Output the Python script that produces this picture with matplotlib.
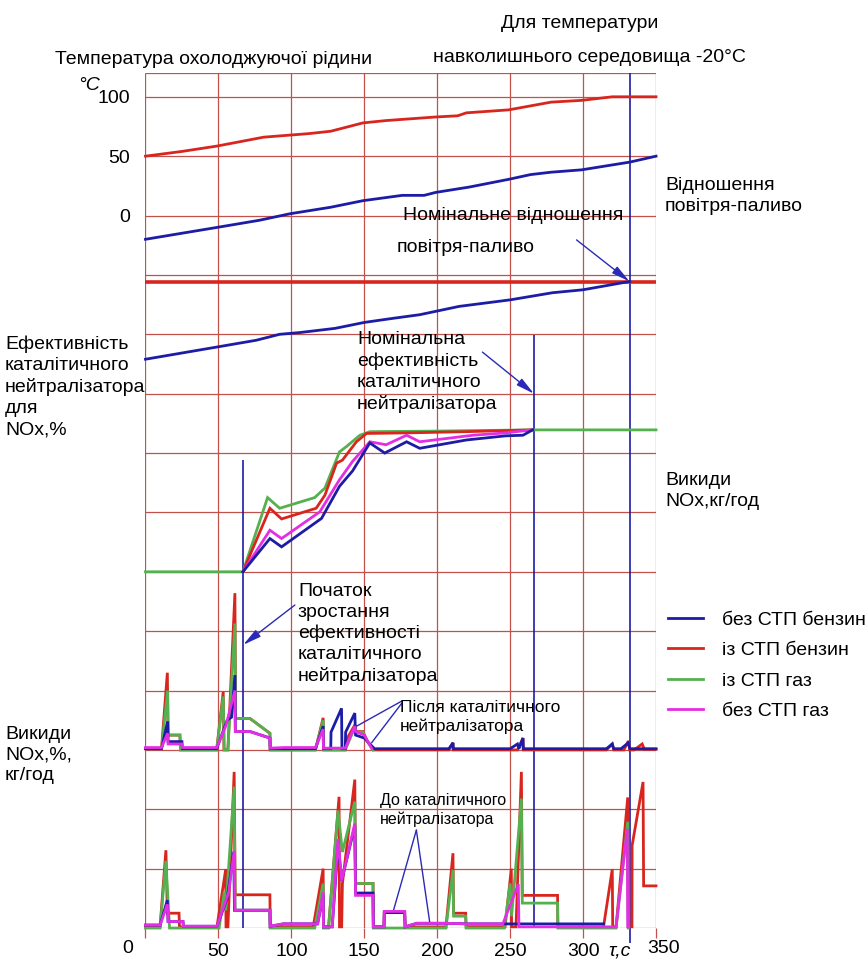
import matplotlib
matplotlib.use('Agg')
import matplotlib.pyplot as plt
from matplotlib.lines import Line2D

plt.rcParams['font.family'] = ['Liberation Sans', 'DejaVu Sans']

C_GRID = '#c4504c'
C_RED = '#d8261e'
C_BLUE = '#1c1ca6'
C_GREEN = '#55b04f'
C_MAG = '#e42ee4'
C_ARW = '#2a2ab8'

# ---- coolant temperature, deg C ----
T_RED_T = [0, 25, 49, 81, 112, 127, 149, 165, 199, 214, 220, 249, 278, 299, 320, 350]
T_RED = [50, 54, 58.5, 66, 69, 71, 78, 80, 83, 84, 86.5, 89, 95.5, 97, 100, 100]
T_BLUE_T = [0, 49, 78, 99, 127, 149, 176, 191, 199, 222, 249, 264, 278, 299, 332, 350]
T_BLUE = [-20, -10, -4, 1.5, 7, 12.5, 17, 17, 19.5, 24, 30.5, 34.5, 36.5, 38.5, 45, 50]

# ---- air-fuel ratio (grid units above panel base) ----
AFR_T = [0, 50, 76, 92, 106, 130, 150, 170, 188, 215, 250, 279, 300, 332]
AFR = [0.58, 0.79, 0.9, 1.0, 1.03, 1.1, 1.2, 1.27, 1.33, 1.47, 1.58, 1.70, 1.75, 1.89]
AFR_NOM = 1.88

# ---- catalyst efficiency (grid units above panel base) ----
EFF_G_T = [0, 66.8, 83.7, 92, 116, 123, 133, 137.8, 147, 153.8, 200, 265, 350]
EFF_G = [0, 0, 1.25, 1.07, 1.25, 1.41, 2.02, 2.11, 2.3, 2.36, 2.37, 2.39, 2.39]
EFF_R_T = [66.8, 85.3, 93.3, 117, 123, 131, 135, 144.6, 151.5, 180, 220, 265]
EFF_R = [0, 1.07, 0.89, 1.07, 1.29, 1.83, 1.88, 2.19, 2.33, 2.34, 2.36, 2.39]
EFF_M_T = [66.8, 85.3, 93.3, 119.5, 133, 142, 153.8, 165, 179, 188, 224.5, 247, 265]
EFF_M = [0, 0.7, 0.56, 1.01, 1.55, 1.86, 2.19, 2.14, 2.3, 2.19, 2.3, 2.34, 2.39]
EFF_B_T = [66.8, 85.3, 93.3, 120.7, 133, 142, 153.8, 164, 179, 188, 201.7, 220, 247, 258.8, 265.4]
EFF_B = [0, 0.56, 0.42, 0.9, 1.44, 1.7, 2.17, 2.0, 2.19, 2.08, 2.14, 2.22, 2.29, 2.3, 2.39]

# ---- NOx after catalyst (grid units above panel base) ----
AFT_R_T = [0, 11, 15, 15.5, 23.6, 24, 48.8, 53.3, 53.8, 56.5, 61.3, 61.8, 71.6, 85.3, 85.5,
           116.5, 121.8, 122.2, 137, 137.2, 143.5, 144, 149, 152, 156, 208, 210.8, 211,
           255, 258.8, 259, 316, 320, 321, 328, 331, 332, 335, 340.5, 342, 350]
AFT_R = [0.02, 0.02, 1.3, 0.25, 0.25, 0.0, 0.0, 0.98, 0.0, 0.0, 2.64, 0.53, 0.53, 0.28, 0.0,
         0.0, 0.54, 0.0, 0.0, 0.15, 0.42, 0.31, 0.31, 0.15, 0.0, 0.0, 0.12, 0.0,
         0.0, 0.2, 0.0, 0.0, 0.1, 0.0, 0.0, 0.15, 0.0, 0.0, 0.1, 0.01, 0.01]
AFT_G_T = [0, 11, 15.2, 15.5, 23.6, 24, 48.8, 53.3, 54, 56.5, 61.3, 61.8, 71.6, 85.3, 85.5,
           116.5, 121.8, 122.2, 137, 143.5, 144, 149, 152, 156]
AFT_G = [0.02, 0.02, 1.0, 0.25, 0.25, 0.0, 0.0, 0.9, 0.0, 0.0, 2.13, 0.53, 0.53, 0.28, 0.0,
         0.0, 0.5, 0.0, 0.0, 0.38, 0.3, 0.3, 0.15, 0.0]
AFT_B_T = [0, 11, 15.2, 15.5, 25, 25.3, 48.8, 56, 59, 61.3, 61.6, 71.6, 85.3, 85.5,
           116.5, 121.8, 122, 127, 127.2, 134.4, 134.7, 137, 137.2, 143.5, 144, 150, 153, 157,
           200, 208, 210.8, 211, 250, 255, 256, 258.8, 259, 316, 320, 321, 326, 331, 332, 350]
AFT_B = [0.02, 0.02, 0.48, 0.14, 0.14, 0.02, 0.02, 0.5, 0.55, 1.26, 0.31, 0.31, 0.2, 0.02,
         0.02, 0.4, 0.02, 0.02, 0.3, 0.7, 0.02, 0.02, 0.3, 0.62, 0.25, 0.2, 0.12, 0.02,
         0.02, 0.02, 0.12, 0.02, 0.02, 0.1, 0.02, 0.2, 0.02, 0.02, 0.1, 0.02, 0.02, 0.12, 0.02, 0.02]
AFT_M_T = [0, 11, 15.2, 15.5, 25, 25.3, 48.8, 55, 61.3, 61.6, 71.6, 85.3, 85.5,
           95, 116.5, 121.8, 122, 137, 143.5, 144, 150, 155]
AFT_M = [0.04, 0.04, 0.28, 0.1, 0.1, 0.04, 0.04, 0.4, 1.0, 0.31, 0.31, 0.2, 0.03,
         0.04, 0.04, 0.35, 0.03, 0.03, 0.4, 0.31, 0.25, 0.03]

# ---- NOx before catalyst (grid units above panel base) ----
BEF_R_T = [0, 10, 14, 15, 23, 23.3, 49, 55, 55.2, 56.5, 60.8, 61.5, 85.3, 85.5, 115, 121.8, 122,
           125.5, 132.7, 133, 134.5, 135, 143.5, 144, 156, 156.2, 163.5, 163.7, 177.7, 178,
           206, 210.8, 211.2, 219.5, 219.8, 246.5, 250.8, 251, 254, 257.7, 258.3, 282.5, 282.7,
           314, 320, 320.3, 322.6, 330.6, 331, 333.5, 333.6, 341.1, 341.5, 350]
BEF_R = [0.02, 0.02, 1.31, 0.25, 0.25, 0.02, 0.02, 0.99, 0.02, 0.02, 2.63, 0.56, 0.56, 0.02,
         0.02, 1.0, 0.02, 0.02, 2.21, 0.02, 0.02, 0.75, 2.5, 0.75, 0.75, 0.02, 0.02, 0.26, 0.26,
         0.02, 0.02, 1.26, 0.25, 0.25, 0.02, 0.02, 1.0, 0.02, 0.02, 2.63, 0.55, 0.55, 0.02,
         0.02, 0.99, 0.02, 0.02, 2.2, 0.02, 0.02, 1.39, 2.46, 0.71, 0.71]
BEF_G_T = [0, 10, 14, 16.5, 50.5, 54, 55, 60.8, 61.5, 85.3, 85.5, 116, 121.8, 122, 125.5, 132,
           135, 143.5, 144, 156, 156.2, 206, 210.8, 211.2, 219.5, 219.8, 246, 250, 251,
           257.7, 258.3, 282.5, 282.7, 322.6, 330.6, 331]
BEF_G = [0.0, 0.0, 1.13, 0.0, 0.0, 0.6, 0.3, 2.38, 0.3, 0.3, 0.0, 0.0, 0.75, 0.0, 0.0, 1.98,
         1.28, 2.13, 0.75, 0.75, 0.0, 0.0, 0.98, 0.2, 0.2, 0.0, 0.0, 0.75, 0.2,
         2.18, 0.42, 0.42, 0.0, 0.0, 1.79, 0.0]
BEF_B_T = [0, 10, 15, 15.5, 25.7, 26, 49, 56, 60.5, 61, 85.3, 85.5, 94.5, 118, 121.8, 122,
           128, 132, 134.5, 143.5, 144, 156, 156.2, 163.5, 163.7, 177.7, 178, 186, 206, 222,
           245, 282.5, 314]
BEF_B = [0.05, 0.05, 0.47, 0.11, 0.11, 0.03, 0.03, 0.5, 1.28, 0.3, 0.3, 0.03, 0.07, 0.07,
         0.55, 0.02, 0.02, 1.4, 0.8, 1.72, 0.59, 0.59, 0.02, 0.02, 0.26, 0.26, 0.02, 0.08,
         0.08, 0.07, 0.07, 0.07, 0.07]
BEF_M_T = [0, 10, 15, 15.5, 25.7, 26, 49, 57, 60.8, 61.3, 85.3, 85.5, 94.5, 118, 121.8, 122,
           128, 132, 134.5, 143.5, 144, 156, 156.2, 163.5, 163.7, 177.7, 178, 186, 206, 222,
           245, 255.6, 256, 322.6, 330.3, 330.6]
BEF_M = [0.05, 0.05, 0.4, 0.11, 0.11, 0.03, 0.03, 0.6, 1.3, 0.3, 0.3, 0.03, 0.07, 0.07,
         0.6, 0.02, 0.02, 1.5, 0.8, 1.76, 0.55, 0.55, 0.02, 0.02, 0.28, 0.28, 0.02, 0.08,
         0.08, 0.07, 0.07, 0.74, 0.02, 0.02, 1.67, 0.02]

# event markers: time, top (grid units), bottom
EVENT_T = [67, 266.5, 332]
EVENT_TOP = [7.88, 9.99, 14.4]
EVENT_BOT = [0, 0, -0.25]

XTICKS = [0, 50, 100, 150, 200, 250, 300, 350]
XLABELS = ['', '50', '100', '150', '200', '250', '300', '']
YTOP = 14.4
LABELS = ['без СТП бензин', 'із СТП бензин', 'із СТП газ', 'без СТП газ']

fig = plt.figure(figsize=(8.68, 9.65), dpi=100)
ax = fig.add_axes([0.1676, 0.0383, 0.5882, 0.886])
ax.set_xlim(0, 350)
ax.set_ylim(0, YTOP)
for s in ax.spines.values():
    s.set_visible(False)

# grid
ax.hlines(list(range(15)) + [YTOP], 0, 350, color=C_GRID, lw=0.9, zorder=1)
ax.vlines(range(0, 351, 50), 0, YTOP, color=C_GRID, lw=0.9, zorder=1)
ax.set_yticks([])
ax.set_xticks(XTICKS)
ax.set_xticklabels(XLABELS, fontsize=14)
ax.tick_params(axis='x', length=7, width=0.9, color=C_GRID, pad=4)
ax.text(-12, -0.2, '0', fontsize=14, ha='center', va='top')
ax.text(355, -0.2, '350', fontsize=14, ha='center', va='top')
ax.text(325, -0.25, 'τ,c', fontsize=14, ha='center', va='top', style='italic')


def panel(u0, u1, lim=None):
    p = ax.inset_axes([0, u0, 350, u1 - u0], transform=ax.transData)
    p.set_xlim(0, 350)
    p.set_ylim(*(lim if lim else (0, u1 - u0)))
    p.patch.set_alpha(0)
    p.set_frame_on(False)
    p.set_xticks([])
    p.set_yticks([])
    return p


kw = dict(lw=2.0, solid_joinstyle='miter', clip_on=False)

# temperature
tp = panel(11, YTOP, (-50, 120))
tp.plot(T_RED_T, T_RED, color=C_RED, **kw)
tp.plot(T_BLUE_T, T_BLUE, color=C_BLUE, **kw)
tp.set_yticks([0, 50, 100])
tp.set_yticklabels(['0', '50', '100'], fontsize=14)
tp.tick_params(axis='y', length=0, pad=11)

# air-fuel ratio
ap = panel(9, 11)
ap.axhline(AFR_NOM, color=C_RED, lw=2.6)
ap.plot(AFR_T, AFR, color=C_BLUE, **kw)

# efficiency
ep = panel(6, 9)
ep.plot(EFF_G_T, EFF_G, color=C_GREEN, **kw)
ep.plot(EFF_R_T, EFF_R, color=C_RED, **kw)
ep.plot(EFF_M_T, EFF_M, color=C_MAG, **kw)
ep.plot(EFF_B_T, EFF_B, color=C_BLUE, **kw)

# NOx after catalyst
np_ = panel(3, 6)
np_.plot(AFT_R_T, AFT_R, color=C_RED, **kw)
np_.plot(AFT_G_T, AFT_G, color=C_GREEN, **kw)
np_.plot(AFT_B_T, AFT_B, color=C_BLUE, **kw)
np_.plot(AFT_M_T, AFT_M, color=C_MAG, **kw)

# NOx before catalyst
bp = panel(0, 3)
bp.plot(BEF_R_T, BEF_R, color=C_RED, **kw)
bp.plot(BEF_G_T, BEF_G, color=C_GREEN, **kw)
bp.plot(BEF_B_T, BEF_B, color=C_BLUE, **kw)
bp.plot(BEF_M_T, BEF_M, color=C_MAG, **kw)

ax.vlines(EVENT_T, EVENT_BOT, EVENT_TOP, color=C_BLUE, lw=1.2, zorder=5, clip_on=False)

# arrows
arw = dict(arrowstyle='-|>,head_length=1.1,head_width=0.25', color=C_ARW, lw=1.0, shrinkA=0, shrinkB=0)
ax.annotate('', xy=(331.8, 10.89), xytext=(295.5, 11.59), arrowprops=arw)
ax.annotate('', xy=(266.3, 9.0), xytext=(231, 9.7), arrowprops=arw)
ax.annotate('', xy=(67, 4.77), xytext=(102.4, 5.44), arrowprops=arw)
ln = dict(arrowstyle='-', color=C_ARW, lw=1.0, shrinkA=0, shrinkB=0)
ax.annotate('', xy=(144, 3.39), xytext=(175.5, 3.82), arrowprops=ln)
ax.annotate('', xy=(155, 3.12), xytext=(175.5, 3.78), arrowprops=ln)
ax.annotate('', xy=(169.7, 0.27), xytext=(185.7, 1.65), arrowprops=ln)
ax.annotate('', xy=(194.9, 0.09), xytext=(185.7, 1.65), arrowprops=ln)

# texts
F = 14
def ftext(px, py, s, **k):
    k.setdefault('fontsize', F)
    k.setdefault('va', 'center')
    fig.text(px / 868, 1 - py / 965, s, **k)

ftext(580, 23, 'Для температури', ha='center')
ftext(55, 59, 'Температура охолоджуючої рідини')
ftext(433, 57, 'навколишнього середовища -20°C')
ftext(78, 86, '°C', style='italic')
ftext(665, 196, 'Відношення\nповітря-паливо', linespacing=1.35)
ftext(403, 215, 'Номінальне відношення')
ftext(397, 247, 'повітря-паливо')
ftext(5, 387, 'Ефективність\nкаталітичного\nнейтралізатора\nдля\nNOx,%', linespacing=1.3)
ftext(357, 372, 'Номінальна\nефективність\nкаталітичного\nнейтралізатора', linespacing=1.3)
ftext(665, 491, 'Викиди\nNOx,кг/год', linespacing=1.35)
ftext(298, 634, 'Початок\nзростання\nефективності\nкаталітичного\nнейтралізатора', linespacing=1.28)
ftext(400, 717, 'Після каталітичного\nнейтралізатора', fontsize=12.5, linespacing=1.2)
ftext(5, 755, 'Викиди\nNOx,%,\nкг/год', linespacing=1.3)
ftext(380, 810, 'До каталітичного\nнейтралізатора', fontsize=11.5, linespacing=1.3)

handles = [Line2D([], [], color=c, lw=2) for c in (C_BLUE, C_RED, C_GREEN, C_MAG)]
fig.legend(handles, LABELS, loc='upper left', bbox_to_anchor=(668 / 868, 1 - 611 / 965),
           frameon=False, fontsize=14, handlelength=1.8, handletextpad=1.0,
           labelspacing=0.66, borderaxespad=0, borderpad=0)

fig.savefig('out.png', dpi=100)
